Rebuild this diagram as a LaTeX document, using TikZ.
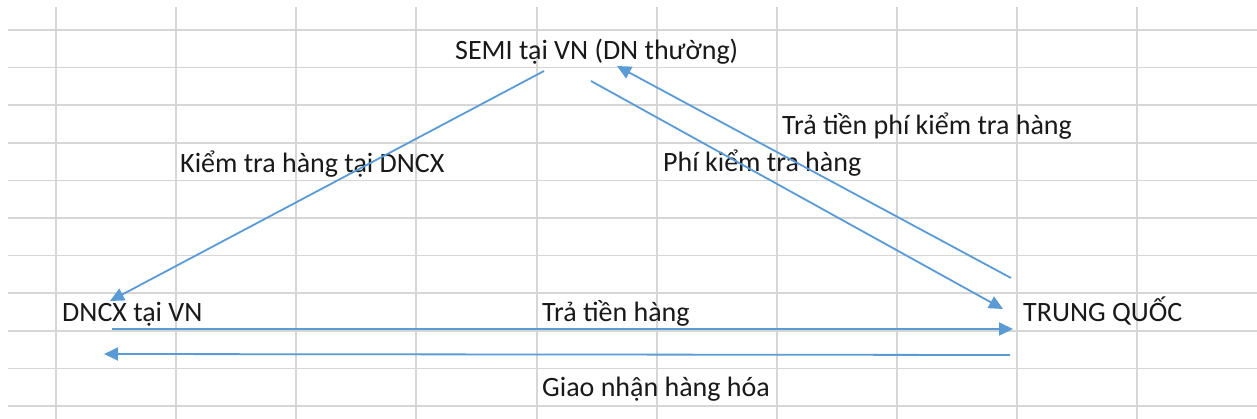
\documentclass[tikz,border=0pt]{standalone}
\usepackage{fontspec}
\setmainfont{Carlito}
\usetikzlibrary{arrows.meta}

\definecolor{gridgray}{HTML}{D6D6D6}
\definecolor{linkblue}{HTML}{5B9BD5}

\begin{document}
\begin{tikzpicture}[
        x=1pt, y=-1pt,
        >={Triangle[length=14pt,width=13pt]},
        font=\fontsize{28}{32}\selectfont,
        cell/.style={anchor=base west, inner sep=0pt, text=black!90},
        link/.style={->, draw=linkblue, line width=1.8pt}
      ]

      % --- Sheet background and cell grid ---
      \fill[white] (0,0) rectangle (1257,419);
      \useasboundingbox (0,0) rectangle (1257,419);
      \foreach \gx in {56,176,296,416,537,657,777,897,1017,1137}
        \draw[gridgray, line width=1.6pt] (\gx,7) -- (\gx,419);
      \foreach \k in {0,...,10}
        \draw[gridgray, line width=1.6pt] (8,30+37.6*\k) -- (1257,30+37.6*\k);

      % --- Parties ---
      \node[cell] (semi) at (455,60) {SEMI tại VN (DN thường)};
      \node[cell] (dncx) at (62,322) {DNCX tại VN};
      \node[cell] (tq) at (1023,322) {TRUNG QUỐC};

      % --- Flow labels ---
      \node[cell] (kiemtra) at (180,173) {Kiểm tra hàng tại DNCX};
      \node[cell] (phi) at (663,172) {Phí kiểm tra hàng};
      \node[cell] (traphi) at (782,135) {Trả tiền phí kiểm tra hàng};
      \node[cell] (trahang) at (542,322) {Trả tiền hàng};
      \node[cell] (giaonhan) at (542,396) {Giao nhận hàng hóa};

      % --- Arrow ends ---
      \coordinate (semi-l) at (544,71);
      \coordinate (semi-r) at (591,81);
      \coordinate (semi-in) at (617,66);
      \coordinate (dncx-in) at (110,301);
      \coordinate (dncx-out) at (112,329);
      \coordinate (dncx-back) at (104,354);
      \coordinate (tq-in) at (1003,309);
      \coordinate (tq-out) at (1011,278);
      \coordinate (tq-pay) at (1013,329);
      \coordinate (tq-ship) at (1010,355);

      % --- Arrows ---
      \draw[link] (semi-l) -- (dncx-in);
      \draw[link] (semi-r) -- (tq-in);
      \draw[link] (tq-out) -- (semi-in);
      \draw[link] (dncx-out) -- (tq-pay);
      \draw[link] (tq-ship) -- (dncx-back);

    \end{tikzpicture}
\end{document}
